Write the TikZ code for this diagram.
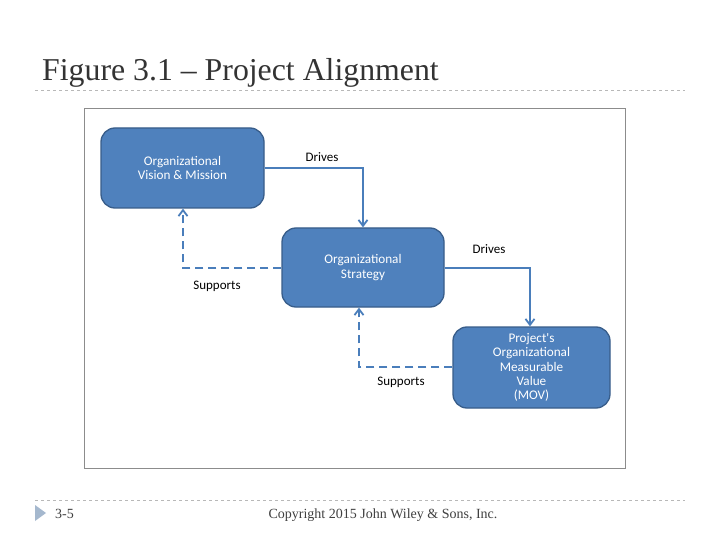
\documentclass[tikz,border=0pt]{standalone}
\usepackage{fontspec}
\setmainfont{Liberation Serif}
\newfontfamily\calib{Carlito}
\usetikzlibrary{arrows.meta}
\definecolor{boxfill}{HTML}{4F81BD}
\definecolor{boxline}{HTML}{385D8A}
\definecolor{arrcol}{HTML}{4A7EBB}
\definecolor{rulegray}{HTML}{B8B8B8}
\definecolor{framegray}{HTML}{8C8C8C}
\definecolor{tri}{HTML}{A5B8CE}
\tikzset{
  blockbox/.style={draw=boxline, line width=1.3pt, fill=boxfill, rounded corners=14pt,
    text=white, font=\calib\fontsize{13.2}{14.3}\selectfont, align=center, inner sep=0pt},
  drivearrow/.style={draw=arrcol, line width=1.8pt, -{Straight Barb[length=6pt,width=9pt]}},
  supparrow/.style={draw=arrcol, line width=1.8pt, dash pattern=on 8pt off 5pt, -{Straight Barb[length=6pt,width=9pt]}},
  lbl/.style={font=\calib\fontsize{13}{14}\selectfont, text=black},
}
\begin{document}
\begin{tikzpicture}[x=1pt,y=-1pt]
\useasboundingbox (0,0) rectangle (720,540);
\fill[white] (0,0) rectangle (720,540);
% title
\node[anchor=base west, inner sep=0pt, font=\fontsize{31.8}{34}\selectfont, text=black!80] (title) at (42,81) {Figure 3.1 -- Project Alignment};
\draw[rulegray, dashed, line width=0.6pt] (35,90.5) -- (685,90.5);
% frame
\draw[framegray, line width=0.8pt] (84,108) rectangle (625,468);
% boxes
\node[blockbox, minimum width=163pt, minimum height=80pt] (vision) at (182.5,168) {Organizational\\Vision \& Mission};
\node[blockbox, minimum width=162pt, minimum height=79pt] (strat) at (363,267.5) {Organizational\\Strategy};
\node[blockbox, minimum width=157pt, minimum height=81pt] (mov) at (531.5,367.5) {Project's\\Organizational\\Measurable\\Value\\(MOV)};
% connectors
\coordinate (c1) at (363,168);
\coordinate (c2) at (530,268);
\coordinate (c3) at (183,268);
\coordinate (c4) at (359,367);
\draw[drivearrow] (vision.east |- c1) -- (c1) -- (c1 |- strat.north);
\draw[drivearrow] (strat.east |- c2) -- (c2) -- (c2 |- mov.north);
\draw[supparrow] (strat.west |- c3) -- (c3) -- (c3 |- vision.south);
\draw[supparrow] (mov.west |- c4) -- (c4) -- (c4 |- strat.south);
\node[lbl] (d1) at (322,157) {Drives};
\node[lbl] (d2) at (489,249) {Drives};
\node[lbl] (s1) at (217,286) {Supports};
\node[lbl] (s2) at (401,382) {Supports};
% footer
\draw[rulegray, dashed, line width=0.6pt] (35,500.5) -- (685,500.5);
\fill[tri] (35,505) -- (46,513) -- (35,521) -- cycle;
\node[anchor=base west, inner sep=0pt, font=\fontsize{14}{16}\selectfont, text=black!75] (pg) at (55,518) {3-5};
\node[anchor=base, inner sep=0pt, font=\fontsize{14}{16}\selectfont, text=black!75] (copy) at (383,518) {Copyright 2015 John Wiley \& Sons, Inc.};
\end{tikzpicture}
\end{document}
